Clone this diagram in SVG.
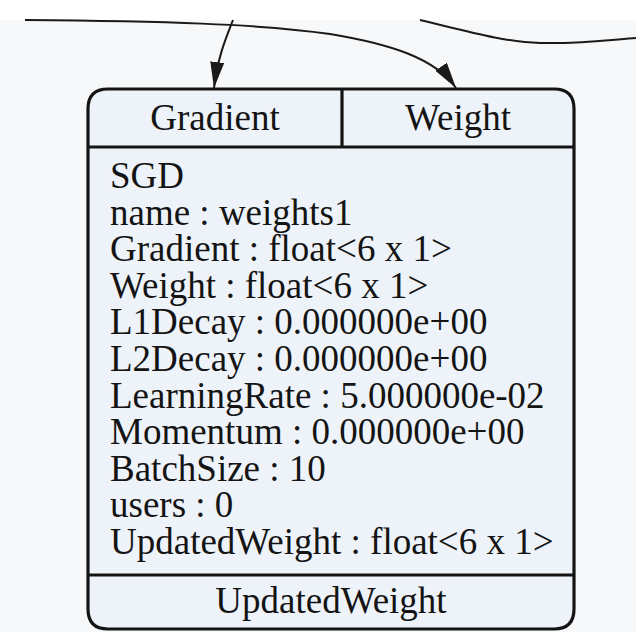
<svg xmlns="http://www.w3.org/2000/svg" width="636" height="632" viewBox="0 0 636 632">
  <style>
    .lbl { font-family: "Liberation Serif", "Times New Roman", serif; font-size: 37px; fill: #141414; }
    .mid { text-anchor: middle; }
    .frame { fill: none; stroke: #141414; stroke-width: 3.2; }
    .edge { fill: none; stroke: #1a1a1a; stroke-width: 2; }
  </style>
  <defs>
    <marker id="arrow" viewBox="0 0 26 14" refX="26" refY="7" markerWidth="26" markerHeight="14" markerUnits="userSpaceOnUse" orient="auto">
      <path d="M0,0 L26,7 L0,14 Z" fill="#1a1a1a"/>
    </marker>
  </defs>

  <!-- page -->
  <rect x="0" y="0" width="636" height="632" fill="#ffffff"/>
  <rect x="0" y="20" width="636" height="612" fill="#f7f8f9"/>

  <!-- connectors -->
  <g id="edges">
    <path class="edge" d="M25,20 C160,21 260,24 330,34 C390,44 435,58 456,88" marker-end="url(#arrow)"/>
    <path class="edge" d="M233,20 C226,38 218,56 214,88" marker-end="url(#arrow)"/>
    <path class="edge" d="M420,20 C470,32 505,42 540,43 C580,44 610,40 636,38"/>
  </g>

  <!-- SGD node -->
  <g id="node_sgd">
    <path d="M108,89 H554 Q574,89 574,109 V609 Q574,629 554,629 H108 Q88,629 88,609 V109 Q88,89 108,89 Z" fill="#eef3f9"/>
    <path class="frame" d="M108,89 H554 Q574,89 574,109 V609 Q574,629 554,629 H108 Q88,629 88,609 V109 Q88,89 108,89 Z"/>
    <line class="frame" x1="88" y1="147" x2="574" y2="147"/>
    <line class="frame" x1="342" y1="89" x2="342" y2="147"/>
    <line class="frame" x1="88" y1="575" x2="574" y2="575"/>

    <text class="lbl mid" x="215" y="130">Gradient</text>
    <text class="lbl mid" x="458" y="130">Weight</text>

    <text class="lbl" x="110" y="188">SGD</text>
    <text class="lbl" x="110" y="224.6">name : weights1</text>
    <text class="lbl" x="110" y="261.2">Gradient : float&lt;6 x 1&gt;</text>
    <text class="lbl" x="110" y="297.8">Weight : float&lt;6 x 1&gt;</text>
    <text class="lbl" x="110" y="334.4">L1Decay : 0.000000e+00</text>
    <text class="lbl" x="110" y="371">L2Decay : 0.000000e+00</text>
    <text class="lbl" x="110" y="407.6">LearningRate : 5.000000e-02</text>
    <text class="lbl" x="110" y="444.2">Momentum : 0.000000e+00</text>
    <text class="lbl" x="110" y="480.8">BatchSize : 10</text>
    <text class="lbl" x="110" y="517.4">users : 0</text>
    <text class="lbl" x="110" y="554">UpdatedWeight : float&lt;6 x 1&gt;</text>

    <text class="lbl mid" x="331" y="613">UpdatedWeight</text>
  </g>
</svg>
